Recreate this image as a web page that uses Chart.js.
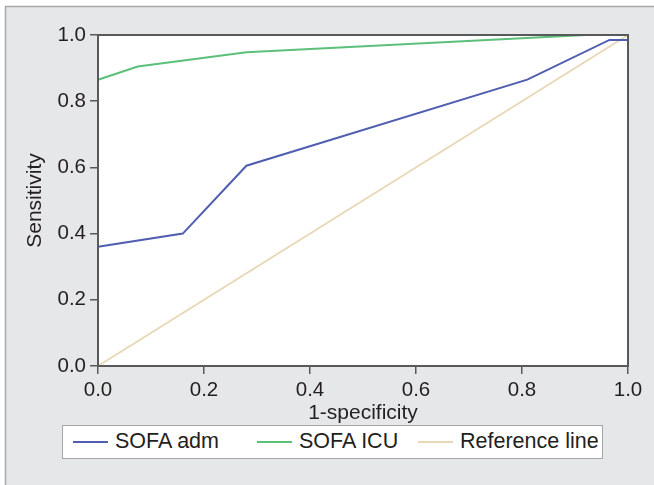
<!DOCTYPE html>
<html>
<head>
<meta charset="utf-8">
<script src="https://cdn.jsdelivr.net/npm/chart.js@4/dist/chart.umd.min.js"></script>
<style>
  html, body { margin: 0; padding: 0; background: #fff; }
  #wrap { position: relative; width: 654px; height: 485px; overflow: hidden; }
  #roc { position: absolute; left: 0; top: 0; }
  #legend {
    position: absolute; left: 62px; top: 425px; width: 541px; height: 34px;
    box-sizing: border-box; border: 1.5px solid #a3a5a8; background: #fff;
    font-family: "Liberation Sans", Arial, sans-serif; font-size: 21.5px; color: #231f20;
  }
  .item { position: absolute; top: 0; height: 31px; display: flex; align-items: center; }
  .item span.ln { display: inline-block; width: 35px; height: 2px; margin-right: 7px; }
</style>
</head>
<body>
<div id="wrap">
  <canvas id="roc" width="654" height="485"></canvas>
  <div id="legend"></div>
</div>
<script>
// ROC curves
const admFpr = [0, 0.16, 0.28, 0.81, 0.965, 1.0];
const admTpr = [0.36, 0.40, 0.605, 0.865, 0.985, 0.985];
const icuFpr = [0, 0.075, 0.28, 0.92, 1.0];
const icuTpr = [0.865, 0.905, 0.948, 1.0, 1.0];
const refFpr = [0, 1];
const refTpr = [0, 1];

const seriesNames = ["SOFA adm", "SOFA ICU", "Reference line"];
const seriesColors = ["#4f5eb0", "#5cbf7a", "#e8d9b6"];
const tickValues = [0, 0.2, 0.4, 0.6, 0.8, 1.0];

const pts = (xs, ys) => xs.map((x, i) => ({ x: x, y: ys[i] }));

const fontFam = '"Liberation Sans", Arial, sans-serif';
const inkColor = "#231f20";
const axisColor = "#58595b";

// grey panel behind + white plot area + frame
const backdrop = {
  id: "backdrop",
  beforeDraw(chart) {
    const { ctx, chartArea: a } = chart;
    ctx.save();
    ctx.fillStyle = "#fff";
    ctx.fillRect(0, 0, chart.width, chart.height);
    ctx.fillStyle = "#e6e7e8";
    ctx.fillRect(5, 6, chart.width, chart.height);
    ctx.strokeStyle = "#a7a9ac";
    ctx.lineWidth = 1.5;
    ctx.beginPath();
    ctx.moveTo(5.5, chart.height);
    ctx.lineTo(5.5, 6.5);
    ctx.lineTo(chart.width, 6.5);
    ctx.stroke();
    ctx.fillStyle = "#fff";
    ctx.fillRect(a.left, a.top, a.right - a.left, a.bottom - a.top);
    ctx.restore();
  },
  afterDraw(chart) {
    const { ctx, chartArea: a } = chart;
    ctx.save();
    ctx.strokeStyle = axisColor;
    ctx.lineWidth = 2;
    ctx.strokeRect(a.left, a.top, a.right - a.left, a.bottom - a.top);
    ctx.restore();
  }
};

const tickCfg = {
  autoSkip: false,
  color: inkColor,
  font: { family: fontFam, size: 20.5 },
  callback: v => Number(v).toFixed(1)
};

const fixTicks = scale => { scale.ticks = tickValues.map(v => ({ value: v })); };

new Chart(document.getElementById("roc"), {
  type: "scatter",
  data: {
    datasets: [
      { label: seriesNames[0], data: pts(admFpr, admTpr), borderColor: seriesColors[0], order: 1 },
      { label: seriesNames[1], data: pts(icuFpr, icuTpr), borderColor: seriesColors[1], order: 2 },
      { label: seriesNames[2], data: pts(refFpr, refTpr), borderColor: seriesColors[2], order: 3 }
    ].map(d => Object.assign(d, {
      showLine: true, pointRadius: 0, borderWidth: 2, fill: false, tension: 0, clip: 4
    }))
  },
  options: {
    responsive: false,
    animation: false,
    layout: { padding: { left: 23, top: 35, right: 26, bottom: 59 } },
    plugins: { legend: { display: false }, tooltip: { enabled: false } },
    scales: {
      x: {
        type: "linear", min: 0, max: 1,
        afterBuildTicks: fixTicks,
        afterFit: s => { s.height = 60; },
        grid: { drawOnChartArea: false, drawTicks: true, tickLength: 8, color: axisColor, lineWidth: 1.5 },
        border: { display: true, color: axisColor, width: 2 },
        ticks: Object.assign({ padding: 4, maxRotation: 0 }, tickCfg),
        title: { display: true, text: "1-specificity", color: inkColor, padding: 0,
                 font: { family: fontFam, size: 21 } }
      },
      y: {
        type: "linear", min: 0, max: 1,
        afterBuildTicks: fixTicks,
        afterFit: s => { s.width = 75; },
        grid: { drawOnChartArea: false, drawTicks: true, tickLength: 8, color: axisColor, lineWidth: 1.5 },
        border: { display: true, color: axisColor, width: 2 },
        ticks: Object.assign({ padding: 4 }, tickCfg),
        title: { display: true, text: "Sensitivity", color: inkColor, padding: 0,
                 font: { family: fontFam, size: 21 } }
      }
    }
  },
  plugins: [backdrop]
});

// legend box under the plot
const legendLeft = [10, 194, 355];
const legend = document.getElementById("legend");
seriesNames.forEach((name, i) => {
  const it = document.createElement("div");
  it.className = "item";
  it.style.left = legendLeft[i] + "px";
  it.innerHTML = '<span class="ln" style="background:' + seriesColors[i] + '"></span><span></span>';
  it.lastChild.textContent = name;
  legend.appendChild(it);
});
</script>
</body>
</html>
